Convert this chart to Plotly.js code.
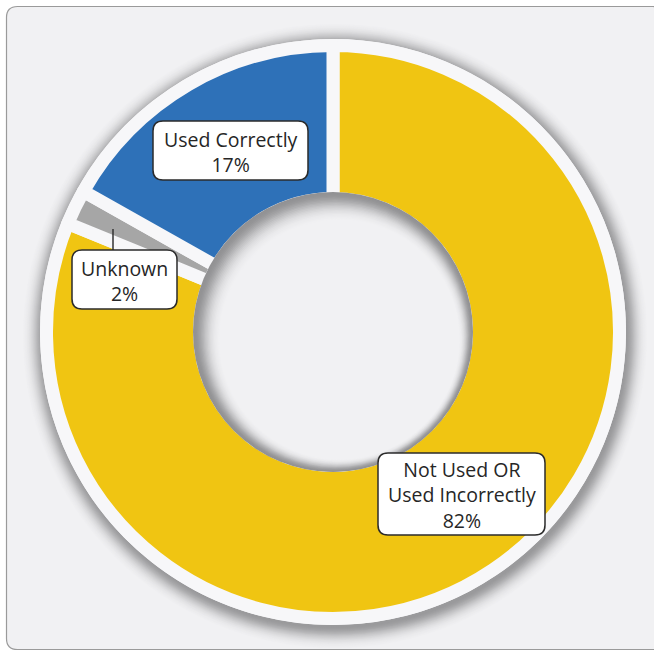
<!DOCTYPE html>
<html>
<head>
<meta charset="utf-8">
<script src="https://cdn.plot.ly/plotly-3.0.1.min.js"></script>
<style>
  html, body { margin: 0; padding: 0; background: #ffffff; }
  #chart { width: 654px; height: 656px; }
</style>
</head>
<body>
<div id="chart"></div>
<script>
// ---- data ----
const categories = ['Not Used OR Used Incorrectly', 'Unknown', 'Used Correctly'];
const labelLines = ['Not Used OR<br>Used Incorrectly', 'Unknown', 'Used Correctly'];
const values = [82, 2, 17];
const sliceColors = ['#f0c512', '#a6a6a6', '#2e71b8'];

// ---- geometry helpers ----
const W = 654, H = 656;
const BG = '#f1f1f3', RING = '#f7f7f9';
const cx = 333, cy = 332;           // centre of the doughnut (px)
const rColOut = 280, rColIn = 140;  // visible coloured radii
const gap = 13;                     // white separator width
const rRing = 293;

const px = x => x / W;
const py = y => 1 - y / H;

function domainFor(r) {
  return { x: [px(cx - r), px(cx + r)], y: [py(cy + r), py(cy - r)] };
}

function hexToRgb(h) { return [1,3,5].map(i => parseInt(h.substr(i,2),16)); }
function mix(a, b, t) {
  const A = hexToRgb(a), B = hexToRgb(b);
  return 'rgb(' + A.map((v,i) => Math.round(v + (B[i]-v)*t)).join(',') + ')';
}
function circle(x, y, r, fill, layer) {
  return { type: 'circle', xref: 'paper', yref: 'paper', layer: layer,
    x0: px(x - r), x1: px(x + r), y0: py(y + r), y1: py(y - r),
    fillcolor: fill, line: { width: 0 } };
}
function roundRect(x0, y0, x1, y1, r) {
  const P = (x, y) => px(x) + ',' + py(y);
  return 'M' + P(x0 + r, y0) + ' L' + P(x1 - r, y0) + ' Q' + P(x1, y0) + ' ' + P(x1, y0 + r) +
    ' L' + P(x1, y1 - r) + ' Q' + P(x1, y1) + ' ' + P(x1 - r, y1) +
    ' L' + P(x0 + r, y1) + ' Q' + P(x0, y1) + ' ' + P(x0, y1 - r) +
    ' L' + P(x0, y0 + r) + ' Q' + P(x0, y0) + ' ' + P(x0 + r, y0) + ' Z';
}

const shapes = [];
// outer card
shapes.push({ type: 'path', xref: 'paper', yref: 'paper', layer: 'below',
  path: roundRect(6.5, 6.5, 664, 649.5, 11), fillcolor: BG,
  line: { color: '#9a9a9a', width: 1.2 } });

// outer drop shadow (soft)
const NS = 22;
for (let i = NS; i >= 0; i--) {
  const u = i / NS;
  const t = 1 - Math.exp(-3.2 * u * u);   // gaussian-like fall-off
  shapes.push(circle(cx + 2, cy + 4, rRing - 2 + i * 0.95, mix('#98989a', BG, Math.min(1, t + 0.02)), 'below'));
}

// hole inner shadow (drawn above the doughnut)
const NH = 20;
for (let k = 0; k <= NH; k++) {
  const u = k / NH;
  const t = 1 - Math.exp(-3.5 * u * u);
  shapes.push(circle(cx + k * 0.32, cy + k * 0.38, rColIn - k * 1.0, mix('#929294', BG, Math.min(1, t / 0.97)), 'above'));
}

// label boxes
const boxes = [
  [378, 453, 545, 535],
  [72, 250, 177, 309],
  [153, 121, 308, 180]
];
// leader for "Unknown"
shapes.push({ type: 'line', xref: 'paper', yref: 'paper', layer: 'above',
  x0: px(113), x1: px(113), y0: py(229), y1: py(250),
  line: { color: '#333333', width: 1.5 } });
boxes.forEach(b => shapes.push({ type: 'path', xref: 'paper', yref: 'paper', layer: 'above',
  path: roundRect(b[0], b[1], b[2], b[3], 10), fillcolor: '#ffffff',
  line: { color: '#2b2b2b', width: 1.5 } }));

const annotations = boxes.map((b, i) => ({
  xref: 'paper', yref: 'paper',
  x: px((b[0] + b[2]) / 2), y: py((b[1] + b[3]) / 2 + 1),
  xanchor: 'center', yanchor: 'middle', showarrow: false, align: 'center',
  text: labelLines[i] + '<br>' + values[i] + '%',
  font: { family: 'Open Sans, sans-serif', size: 19.5, color: '#262626' }
}));

const rPie = rColOut + gap / 2;
const holeFrac = (rColIn - gap / 2) / rPie;

const ringTrace = {
  type: 'pie', values: [1], labels: ['ring'], sort: false,
  marker: { colors: [RING], line: { width: 0 } },
  textinfo: 'none', hoverinfo: 'skip', showlegend: false,
  domain: domainFor(rRing)
};
const donut = {
  type: 'pie', labels: categories, values: values, sort: false,
  direction: 'clockwise', rotation: 0, hole: holeFrac,
  marker: { colors: sliceColors, line: { color: RING, width: gap } },
  textinfo: 'none', hoverinfo: 'label+percent', showlegend: false,
  domain: domainFor(rPie)
};

Plotly.newPlot('chart', [ringTrace, donut], {
  width: W, height: H,
  margin: { l: 0, r: 0, t: 0, b: 0 },
  paper_bgcolor: '#ffffff',
  showlegend: false,
  shapes: shapes,
  annotations: annotations
}, { displayModeBar: false, staticPlot: true });
</script>
</body>
</html>
